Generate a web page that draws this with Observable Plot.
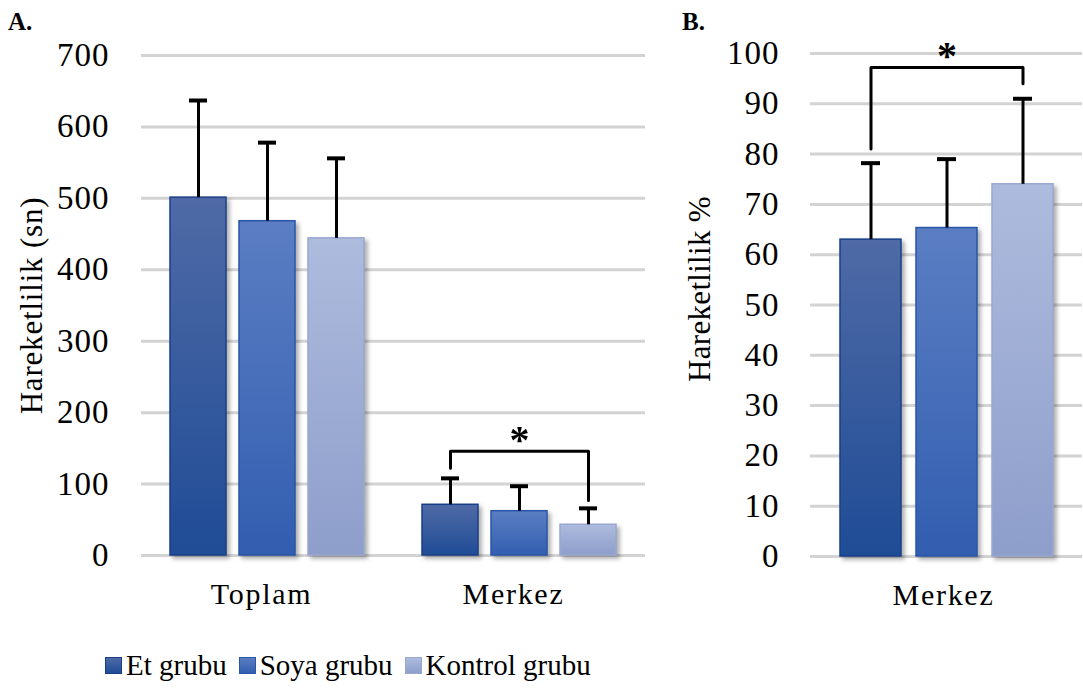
<!DOCTYPE html>
<html><head><meta charset="utf-8">
<script src="https://cdn.jsdelivr.net/npm/d3@7"></script>
<script src="https://cdn.jsdelivr.net/npm/@observablehq/plot@0.6"></script>
<style>
body{margin:0;background:#fff;}
#root{position:relative;width:1083px;height:688px;font-family:"Liberation Serif","Times New Roman",serif;overflow:hidden;background:#fff}
#root svg, #root svg text{font-family:"Liberation Serif","Times New Roman",serif !important;}
#root g[aria-label="fx-axis tick label"] text{letter-spacing:1.7px}
#root g[aria-label="y-axis tick label"] text{letter-spacing:1px}
.panel{position:absolute;top:0}
.tag{position:absolute;font-weight:bold;font-size:25px;color:#000}
#legend{position:absolute;left:105px;top:649px;display:flex;align-items:center;font-size:29px;color:#000;white-space:nowrap}
#legend .item{display:flex;align-items:center;margin-right:12px}
#legend .sw{width:17px;height:17px;margin-right:4px;box-sizing:border-box;border:1px solid #1a3f88}
</style>
</head><body>
<svg width="0" height="0" style="position:absolute">
  <defs>
    <linearGradient id="grad0" x1="0" y1="0" x2="0" y2="1">
      <stop offset="0" stop-color="#4f6aa6"/><stop offset="1" stop-color="#1f4c96"/>
    </linearGradient>
    <linearGradient id="grad1" x1="0" y1="0" x2="0" y2="1">
      <stop offset="0" stop-color="#5b7ec3"/><stop offset="1" stop-color="#325eb0"/>
    </linearGradient>
    <linearGradient id="grad2" x1="0" y1="0" x2="0" y2="1">
      <stop offset="0" stop-color="#adbbdd"/><stop offset="1" stop-color="#8e9ecb"/>
    </linearGradient>
  </defs>
</svg>
<div id="root">
  <div class="tag" style="left:8px;top:8px">A.</div>
  <div class="tag" style="left:682px;top:8px">B.</div>
  <div id="panelA" class="panel" style="left:0"></div>
  <div id="panelB" class="panel" style="left:660px"></div>
  <div id="legend"></div>
</div>
<script>
// ---- data ----
const groups = ["Et grubu", "Soya grubu", "Kontrol grubu"];
const categoriesA = ["Toplam", "Merkez"];
const toplamMeans = [501, 468, 444];
const toplamSD = [136, 110, 112];
const merkezMeans = [71, 62, 43];
const merkezSD = [37, 35, 23];
const ticksA = [0, 100, 200, 300, 400, 500, 600, 700];
const bracketAGroups = ["Et grubu", "Et grubu", "Kontrol grubu", "Kontrol grubu"];
const bracketAValues = [122, 146, 146, 77];
const starA = 162;

const categoriesB = ["Merkez"];
const percentMeans = [63, 65.3, 74];
const percentSD = [15.2, 13.7, 17];
const ticksB = [0, 10, 20, 30, 40, 50, 60, 70, 80, 90, 100];
const bracketBGroups = ["Et grubu", "Et grubu", "Kontrol grubu", "Kontrol grubu"];
const bracketBValues = [81, 97.2, 97.2, 94];
const starB = 99.5;

const fills = ["url(#grad0)", "url(#grad1)", "url(#grad2)"];
const strokes = ["#1a3f88", "#2a56a8", "#9aa8d0"];
const swatch = ["linear-gradient(#4f6aa6,#1f4c96)", "linear-gradient(#5b7ec3,#325eb0)", "linear-gradient(#adbbdd,#8e9ecb)"];
const font = "Liberation Serif, Times New Roman, serif";

// ---- tables ----
const rowsA = [];
categoriesA.forEach((c, i) => {
  const m = i === 0 ? toplamMeans : merkezMeans;
  const s = i === 0 ? toplamSD : merkezSD;
  groups.forEach((g, j) => rowsA.push({cat: c, group: g, mean: m[j], hi: m[j] + s[j]}));
});
const rowsB = groups.map((g, j) => ({cat: "Merkez", group: g, mean: percentMeans[j], hi: percentMeans[j] + percentSD[j]}));
const bracketA = bracketAGroups.map((g, i) => ({cat: "Merkez", group: g, y: bracketAValues[i]}));
const bracketB = bracketBGroups.map((g, i) => ({cat: "Merkez", group: g, y: bracketBValues[i]}));

function panel({rows, cats, ticks, ymax, width, mL, mR, mT, mB, xPadIn, xPadOut, tickPad, fxDx, title, titleDx, titleDy, titleSpacing, bracket, star, capInset}) {
  const first = [{cat: cats[0]}];
  const starRow = [{cat: "Merkez", group: "Soya grubu", y: star}];
  const svg = Plot.plot({
    width, height: 620,
    marginLeft: mL, marginRight: mR, marginTop: mT, marginBottom: mB,
    style: {fontFamily: font, background: "transparent", color: "#000", overflow: "visible"},
    fx: {domain: cats, padding: 0},
    x: {domain: groups, axis: null, paddingInner: xPadIn, paddingOuter: xPadOut},
    y: {domain: [0, ymax], axis: null},
    marks: [
      Plot.gridY(ticks, {stroke: "#d3d3d3", strokeWidth: 3, strokeOpacity: 1}),
      Plot.axisY(ticks, {tickSize: 0, tickPadding: tickPad, fontSize: 33, label: null}),
      Plot.axisFx({anchor: "bottom", tickSize: 0, tickPadding: 27, dx: fxDx, fontSize: 30, label: null}),
      ...groups.map((g, j) => Plot.barY(rows.filter(d => d.group === g), {
        fx: "cat", x: "group", y: "mean", fill: fills[j], stroke: strokes[j], strokeWidth: 1.5
      })),
      Plot.ruleX(rows, {fx: "cat", x: "group", y1: "mean", y2: "hi", stroke: "#000", strokeWidth: 3}),
      Plot.tickY(rows, {fx: "cat", x: "group", y: "hi", stroke: "#000", strokeWidth: 4, insetLeft: capInset, insetRight: capInset}),
      Plot.line(bracket, {fx: "cat", x: "group", y: "y", stroke: "#000", strokeWidth: 3, curve: "linear"}),
      Plot.text(starRow, {fx: "cat", x: "group", y: "y", text: () => "*", fontSize: 40, fontWeight: "bold", lineAnchor: "middle"}),
      Plot.text(first, {fx: "cat", text: () => title, frameAnchor: "left", dx: titleDx, dy: titleDy, rotate: -90, fontSize: 31, textAnchor: "middle", lineAnchor: "middle"})
    ]
  });
  svg.querySelectorAll('g[aria-label="bar"]').forEach(g => g.style.filter = "drop-shadow(3px 3px 2px rgba(0,0,0,0.32))");
  svg.querySelectorAll('g[aria-label="text"] text').forEach(t => { if (t.textContent === title) t.style.letterSpacing = titleSpacing; });
  return svg;
}

document.getElementById("panelA").append(panel({
  rows: rowsA, cats: categoriesA, ticks: ticksA, ymax: 700, width: 660,
  mL: 140, mR: 15, mT: 55, mB: 65, xPadIn: 13 / 70, xPadOut: 0.396, tickPad: 32, fxDx: -6,
  title: "Hareketlilik (sn)", titleDx: -109, titleDy: 0, titleSpacing: "0.8px", bracket: bracketA, star: starA, capInset: 19
}));
document.getElementById("panelB").append(panel({
  rows: rowsB, cats: categoriesB, ticks: ticksB, ymax: 100, width: 423,
  mL: 150, mR: 1, mT: 53, mB: 64, xPadIn: 15 / 76, xPadOut: 0.388, tickPad: 31, fxDx: -3,
  title: "Hareketlilik %", titleDx: -110, titleDy: -16, titleSpacing: "0.3px", bracket: bracketB, star: starB, capInset: 21
}));

const legend = document.getElementById("legend");
groups.forEach((g, j) => {
  const item = document.createElement("div");
  item.className = "item";
  const sw = document.createElement("div");
  sw.className = "sw";
  sw.style.background = swatch[j];
  sw.style.borderColor = strokes[j];
  const t = document.createElement("span");
  t.textContent = g;
  item.append(sw, t);
  legend.append(item);
});
</script>
</body></html>
